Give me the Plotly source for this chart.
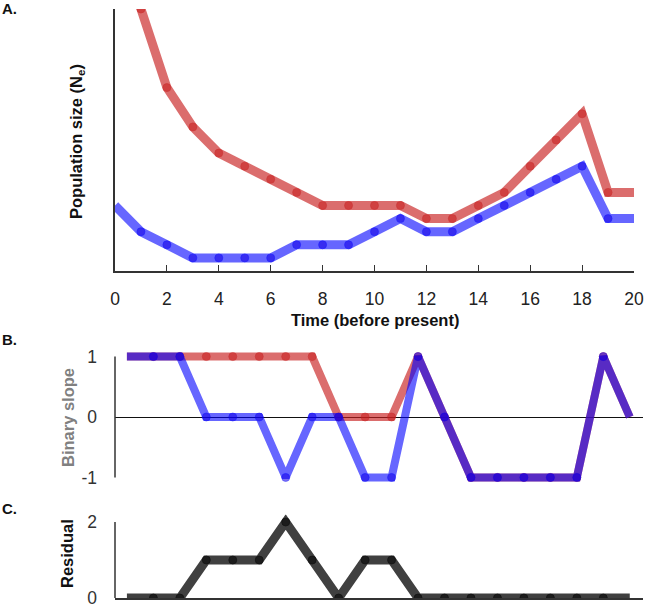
import plotly.graph_objects as go

# ---------------- data ----------------
time = list(range(0, 21))
ne_red = [27, 20, 14, 11, 9, 8, 7, 6, 5, 5, 5, 5, 4, 4, 5, 6, 8, 10, 12, 6, 6]
ne_blue = [5, 3, 2, 1, 1, 1, 1, 2, 2, 2, 3, 4, 3, 3, 4, 5, 6, 7, 8, 4, 4]

step = list(range(1, 21))
slope_red = [1, 1, 1, 1, 1, 1, 1, 1, 0, 0, 0, 1, 0, -1, -1, -1, -1, -1, 1, 0]
slope_blue = [1, 1, 1, 0, 0, 0, -1, 0, 0, -1, -1, 1, 0, -1, -1, -1, -1, -1, 1, 0]
residual = [0, 0, 0, 1, 1, 1, 2, 1, 0, 1, 1, 0, 0, 0, 0, 0, 0, 0, 0, 0]

x_ticks = list(range(0, 21, 2))
slope_ticks = [-1, 0, 1]
residual_ticks = [0, 2]

# ---------------- styling ----------------
W, H = 646, 605
FONT = "Liberation Sans, Arial, sans-serif"
RED_LINE = "rgba(200,30,30,0.65)"
RED_DOT = "rgba(200,30,30,0.8)"
BLUE_LINE = "rgba(0,0,255,0.6)"
BLUE_DOT = "rgba(20,0,230,0.8)"
BLACK_LINE = "rgba(0,0,0,0.75)"
BLACK_DOT = "rgba(0,0,0,0.8)"
AXIS = "#333333"
LW = 9
DOT = 8
TICK_SIZE = 17.5
TITLE_SIZE = 16.5


def px(p):
    return p / W


def py(p):
    return 1 - p / H


def interior_sizes(n):
    return [0] + [DOT] * (n - 2) + [0]


fig = go.Figure()

# Panel A
fig.add_trace(go.Scatter(x=time, y=ne_red, mode="lines+markers",
                         line=dict(color=RED_LINE, width=LW),
                         marker=dict(color=RED_DOT, size=interior_sizes(len(time))),
                         xaxis="x", yaxis="y", showlegend=False))
fig.add_trace(go.Scatter(x=time, y=ne_blue, mode="lines+markers",
                         line=dict(color=BLUE_LINE, width=LW),
                         marker=dict(color=BLUE_DOT, size=interior_sizes(len(time))),
                         xaxis="x", yaxis="y", showlegend=False))

# Panel B
fig.add_trace(go.Scatter(x=step, y=slope_red, mode="lines+markers",
                         line=dict(color=RED_LINE, width=LW - 1),
                         marker=dict(color=RED_DOT, size=interior_sizes(len(step))),
                         xaxis="x2", yaxis="y2", showlegend=False))
fig.add_trace(go.Scatter(x=step, y=slope_blue, mode="lines+markers",
                         line=dict(color=BLUE_LINE, width=LW - 1),
                         marker=dict(color=BLUE_DOT, size=interior_sizes(len(step))),
                         xaxis="x2", yaxis="y2", showlegend=False))

# Panel C
fig.add_trace(go.Scatter(x=step, y=residual, mode="lines+markers",
                         line=dict(color=BLACK_LINE, width=LW),
                         marker=dict(color=BLACK_DOT, size=interior_sizes(len(step))),
                         xaxis="x3", yaxis="y3", showlegend=False))

fig.update_layout(
    width=W, height=H,
    margin=dict(l=0, r=0, t=0, b=0, pad=0, autoexpand=False),
    paper_bgcolor="white", plot_bgcolor="white",
    font=dict(family=FONT, color="#222222"),
    xaxis=dict(domain=[px(115), px(634)], range=[0, 20], anchor="y",
               showline=True, linecolor=AXIS, linewidth=1.5,
               ticks="inside", ticklen=6, tickwidth=1.2, tickcolor=AXIS,
               tickvals=x_ticks, tickfont=dict(size=TICK_SIZE, color="#222222"),
               ticklabelstandoff=11, ticklabeloverflow="allow",
               showgrid=False, zeroline=False),
    yaxis=dict(domain=[py(271), py(9)], range=[0, 20], anchor="x",
               showline=True, linecolor=AXIS, linewidth=1.5,
               showticklabels=False, ticks="", showgrid=False, zeroline=False),
    xaxis2=dict(domain=[px(115), px(643)], range=[0.55, 20.5], anchor="y2",
                visible=False),
    yaxis2=dict(domain=[py(483.5), py(350.5)], range=[-1.1, 1.1], anchor="x2",
                showline=False, showgrid=False,
                zeroline=True, zerolinecolor="#111111", zerolinewidth=1,
                tickvals=slope_ticks, ticktext=[str(v) for v in slope_ticks],
                ticks="", ticklabelstandoff=17, ticklabeloverflow="allow",
                tickfont=dict(size=TICK_SIZE, color="#333333")),
    xaxis3=dict(domain=[px(115), px(643)], range=[0.55, 20.5], anchor="y3",
                showline=True, linecolor=AXIS, linewidth=1.5,
                showticklabels=False, ticks="", showgrid=False, zeroline=False),
    yaxis3=dict(domain=[py(598), py(514.4)], range=[0, 2.2], anchor="x3",
                showline=False, showgrid=False, zeroline=False,
                tickvals=residual_ticks, ticks="", ticklabelstandoff=17,
                ticklabeloverflow="allow",
                tickfont=dict(size=TICK_SIZE, color="#333333")),
)

shapes = [
    dict(type="line", xref="paper", yref="y2", x0=px(115), x1=px(115), y0=-1, y1=1,
         line=dict(color=AXIS, width=1.5)),
    dict(type="line", xref="paper", yref="y3", x0=px(115), x1=px(115), y0=0, y1=2,
         line=dict(color=AXIS, width=1.5)),
]
fig.update_layout(shapes=shapes)


def ann(text, x, y, size=TITLE_SIZE, color="#111111", angle=0, xanchor="center"):
    fig.add_annotation(text=text, x=px(x), y=py(y), xref="paper", yref="paper",
                       showarrow=False, textangle=angle, xanchor=xanchor, yanchor="middle",
                       font=dict(family=FONT, size=size, color=color))


ann("<b>A.</b>", 0, 9, size=15, xanchor="left")
ann("<b>B.</b>", 0, 339, size=15, xanchor="left")
ann("<b>C.</b>", 0, 508, size=15, xanchor="left")
ann("<b>Population size (N<sub>e</sub>)</b>", 77, 142, angle=-90)
ann("<b>Time (before present)</b>", 375, 320)
ann("<b>Binary slope</b>", 68, 418, color="#808080", angle=-90)
ann("<b>Residual</b>", 67, 554, angle=-90)

fig.write_html("out.html", config={"displayModeBar": False},
               post_script="document.body.style.margin='0px';")
